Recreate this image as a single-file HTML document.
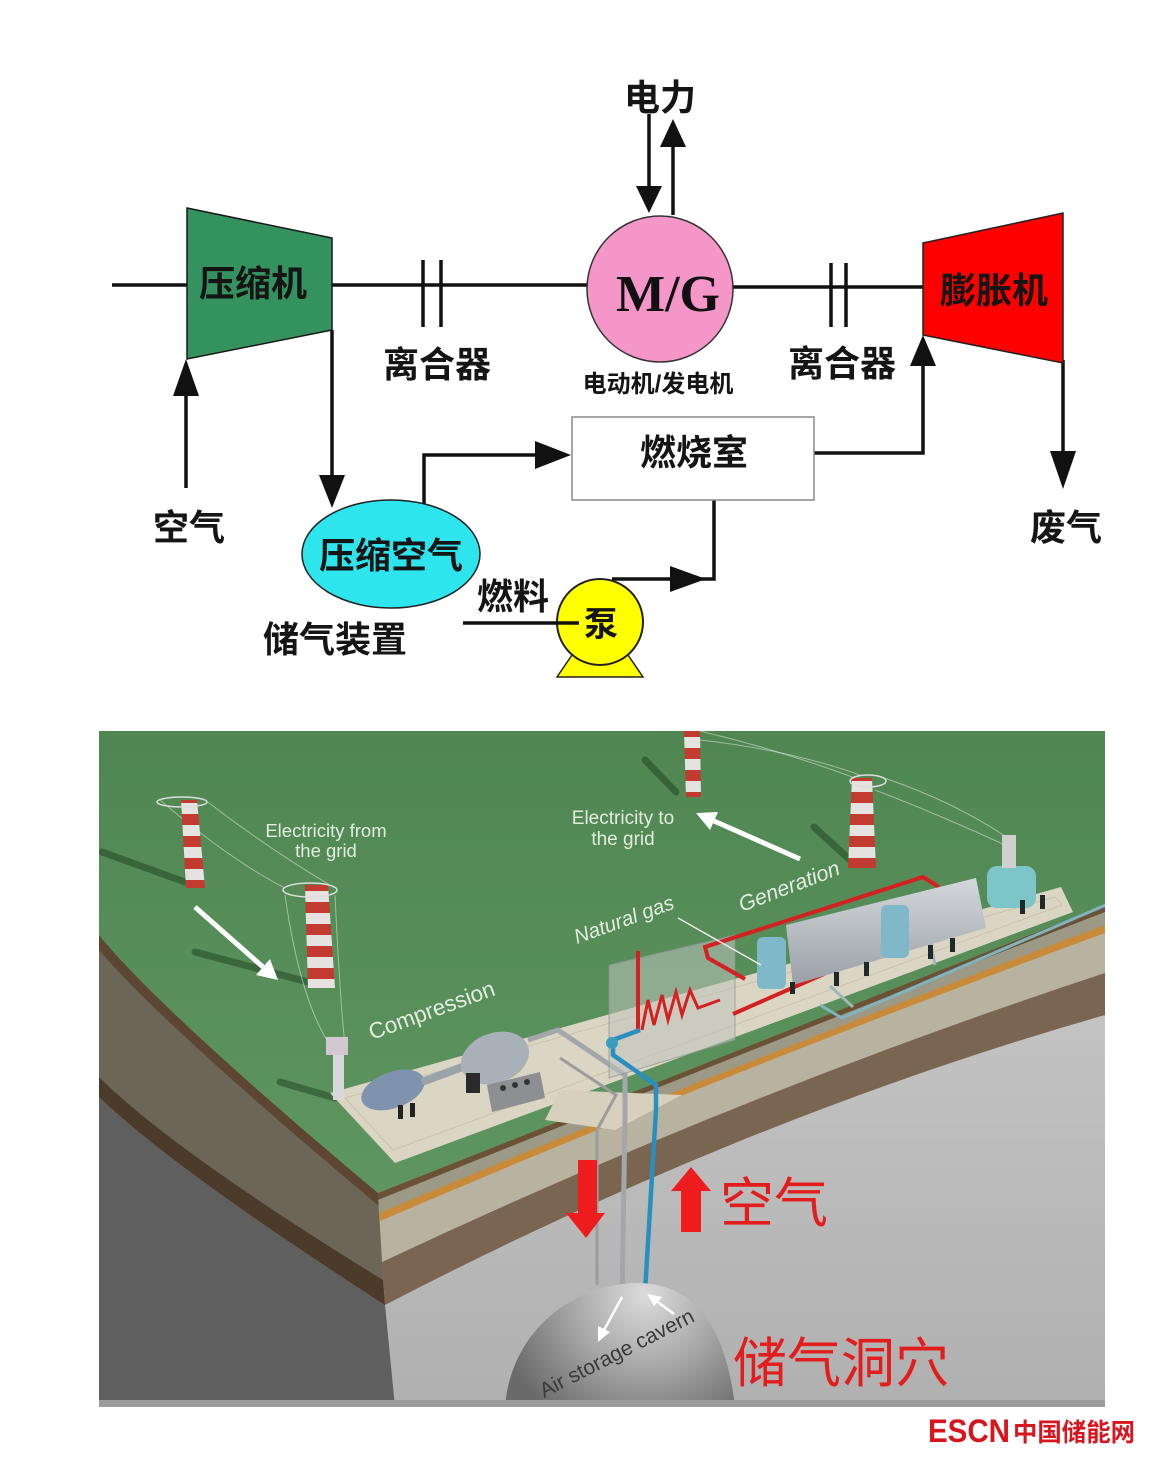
<!DOCTYPE html>
<html><head><meta charset="utf-8">
<style>
html,body{margin:0;padding:0;background:#fff;}
svg{display:block;}
.cn{font-family:"Liberation Sans","Noto Sans CJK SC",sans-serif;font-weight:700;fill:#151515;text-anchor:middle;}
.en{font-family:"Liberation Sans",sans-serif;fill:#e4ece0;}
.rd{font-family:"Liberation Sans","Noto Sans CJK SC",sans-serif;font-weight:400;fill:#e31d1d;}
</style></head><body>
<svg width="1162" height="1467" viewBox="0 0 1162 1467" xmlns="http://www.w3.org/2000/svg">
<defs>
<clipPath id="cb"><rect x="99" y="731" width="1006" height="676"/></clipPath>
<linearGradient id="gGreen" x1="0" y1="0" x2="0" y2="1">
 <stop offset="0" stop-color="#4f8651"/><stop offset="1" stop-color="#5e9561"/>
</linearGradient>
<linearGradient id="gRock" x1="0" y1="0" x2="0" y2="1">
 <stop offset="0" stop-color="#d0d0d0"/><stop offset="1" stop-color="#b0b0b0"/>
</linearGradient>
<radialGradient id="gDome" cx="645" cy="1295" r="150" gradientUnits="userSpaceOnUse">
 <stop offset="0" stop-color="#dcdcdc"/><stop offset="0.5" stop-color="#a6a6a6"/><stop offset="1" stop-color="#6a6a6a"/>
</radialGradient>
<linearGradient id="gCyl" x1="0" y1="0" x2="0" y2="1">
 <stop offset="0" stop-color="#d4d8dc"/><stop offset="1" stop-color="#9aa0a6"/>
</linearGradient>
<pattern id="stripe" width="40" height="22" patternUnits="userSpaceOnUse">
 <rect width="40" height="11" fill="#c23a30"/><rect y="11" width="40" height="11" fill="#e6e2e0"/>
</pattern>
</defs>

<!-- ================= TOP DIAGRAM ================= -->
<g stroke="#111" stroke-width="3.5" fill="none">
 <line x1="112" y1="285" x2="190" y2="285"/>
 <line x1="330" y1="285" x2="590" y2="285"/>
 <line x1="730" y1="287" x2="925" y2="287"/>
 <line x1="423" y1="260" x2="423" y2="327"/>
 <line x1="441" y1="260" x2="441" y2="327"/>
 <line x1="831" y1="263" x2="831" y2="327"/>
 <line x1="846" y1="263" x2="846" y2="327"/>
 <line x1="186" y1="488" x2="186" y2="392"/>
 <line x1="332" y1="330" x2="332" y2="478"/>
 <polyline points="424,504 424,455 538,455"/>
 <polyline points="814,453 923,453 923,362"/>
 <line x1="1063" y1="360" x2="1063" y2="454"/>
 <line x1="649" y1="114" x2="649" y2="189"/>
 <line x1="673" y1="215" x2="673" y2="143"/>
 <polyline points="612,579 714,579 714,500"/>
</g>
<g fill="#111">
 <polygon points="173,396 199,396 186,359"/>
 <polygon points="319,475 345,475 332,508"/>
 <polygon points="535,441 535,469 571,455"/>
 <polygon points="910,366 936,366 923,335"/>
 <polygon points="1050,451 1076,451 1063,489"/>
 <polygon points="636,186 662,186 649,213"/>
 <polygon points="660,147 686,147 673,119"/>
 <polygon points="670,566 670,592 706,579"/>
</g>
<polygon points="187,208 332,238 332,330 187,359" fill="#34925f" stroke="#1a1a1a" stroke-width="1.5"/>
<circle cx="660" cy="289" r="73" fill="#f596c8" stroke="#333" stroke-width="1.5"/>
<polygon points="923,243 1063,213 1063,363 923,335" fill="#ff0000" stroke="#222" stroke-width="1.5"/>
<ellipse cx="391" cy="554" rx="89" ry="54" fill="#2ee5ee" stroke="#222" stroke-width="1.5"/>
<rect x="572" y="417" width="242" height="83" fill="#fff" stroke="#8a8a8a" stroke-width="1.5"/>
<polygon points="557,677 643,677 628,655 572,655" fill="#ffff00" stroke="#222" stroke-width="1.5"/>
<circle cx="600" cy="622" r="43" fill="#ffff00" stroke="#222" stroke-width="2"/>
<line x1="463" y1="623" x2="579" y2="623" stroke="#111" stroke-width="3.5"/>

<text class="cn" x="253" y="296" font-size="36">压缩机</text>
<text class="cn" x="437" y="377" font-size="36">离合器</text>
<text class="cn" x="189" y="540" font-size="36">空气</text>
<text class="cn" x="391" y="568" font-size="36">压缩空气</text>
<text class="cn" x="335" y="652" font-size="36">储气装置</text>
<text class="cn" x="513" y="609" font-size="36">燃料</text>
<text class="cn" x="601" y="636" font-size="34">泵</text>
<text class="cn" x="660" y="110" font-size="36">电力</text>
<text class="cn" x="658" y="392" font-size="24">电动机/发电机</text>
<text class="cn" x="694" y="465" font-size="36">燃烧室</text>
<text class="cn" x="994" y="303" font-size="36">膨胀机</text>
<text class="cn" x="842" y="376" font-size="36">离合器</text>
<text class="cn" x="1066" y="540" font-size="36">废气</text>
<text x="668" y="311" font-family="'Liberation Serif',serif" font-weight="700" font-size="52" fill="#111" text-anchor="middle">M/G</text>

<!-- ================= BOTTOM ILLUSTRATION ================= -->
<g clip-path="url(#cb)">
 <rect x="99" y="731" width="1006" height="676" fill="url(#gRock)"/>
 <path d="M99,1097 Q175,1170 385,1305 L395,1407 L99,1407 Z" fill="#5f5f5f"/>
 <path d="M99,935 Q160,1010 378,1193 L385,1305 Q175,1170 99,1097 Z" fill="#6b6657"/>
 <path d="M99,935 Q160,1010 378,1193 L379,1206 Q163,1025 99,950 Z" fill="#5d4632"/>
 <path d="M99,1077 Q172,1150 383,1280 L385,1305 Q175,1170 99,1097 Z" fill="#4c3b2b"/>
 <path d="M378,1193 Q741,1049 1105,905 L1105,1015 Q745,1118 385,1305 Z" fill="#7a6650"/>
 <path d="M378,1193 Q741,1049 1105,905 L1105,973 Q743.5,1092 382,1262 Z" fill="#b8b2a0"/>
 <path d="M378,1193 Q741,1049 1105,905 L1105,933 Q742,1066 380,1221 Z" fill="#c98a3a"/>
 <path d="M378,1193 Q741,1049 1105,905 L1105,925 Q742,1061 379,1213 Z" fill="#9c9a86"/>
 <path d="M378,1193 Q741,1049 1105,905 L1105,912 Q741,1053 378,1200 Z" fill="#6b5236"/>
 <path d="M99,731 L1105,731 L1105,905 L378,1193 Q160,1010 99,935 Z" fill="url(#gGreen)"/>

 <g stroke="rgba(25,55,25,0.45)" stroke-width="7" stroke-linecap="round">
  <line x1="185" y1="882" x2="102" y2="852"/>
  <line x1="308" y1="982" x2="195" y2="952"/>
  <line x1="849" y1="859" x2="814" y2="827"/>
  <line x1="676" y1="792" x2="645" y2="760"/>
  <line x1="335" y1="1098" x2="280" y2="1082"/>
 </g>
 <g stroke="rgba(225,232,222,0.55)" stroke-width="1" fill="none">
  <path d="M160,800 Q230,860 285,888"/>
  <path d="M205,800 Q270,850 335,888"/>
  <path d="M285,895 Q300,1000 330,1045"/>
  <path d="M335,895 Q340,1000 345,1045"/>
  <path d="M855,778 Q780,750 700,731"/>
  <path d="M884,778 Q950,800 1005,836"/>
  <path d="M875,790 Q940,815 1005,845"/>
  <path d="M700,740 Q790,750 860,775"/>
 </g>
 <polygon points="181,800 197,800 205,888 186,888" fill="url(#stripe)"/>
 <ellipse cx="182" cy="802" rx="25" ry="5" fill="none" stroke="#ddd" stroke-width="1.5"/>
 <polygon points="305,885 328,885 335,988 308,988" fill="url(#stripe)"/>
 <ellipse cx="310" cy="890" rx="27" ry="7" fill="none" stroke="#ddd" stroke-width="1.5"/>
 <polygon points="684,731 700,731 701,797 686,797" fill="url(#stripe)"/>
 <polygon points="852,778 872,778 876,868 848,868" fill="url(#stripe)"/>
 <ellipse cx="868" cy="781" rx="18" ry="6" fill="none" stroke="#ddd" stroke-width="1.5"/>

 <polygon points="330,1093 1061,887 1073,912 395,1163" fill="#dbd5c3"/>
 <polygon points="345,1098 1055,897 1062,905 393,1150" fill="none" stroke="#c9c2ae" stroke-width="1"/>
 <polygon points="560,1090 682,1095 615,1130 545,1120" fill="#d6d0bd"/>

 <path d="M528,1040 L558,1030 L625,1075 L625,1117 L622,1300" fill="none" stroke="#a3a7ab" stroke-width="5"/>
 <path d="M560,1058 L616,1095 L597,1130 L597,1285" fill="none" stroke="#9a9c9e" stroke-width="3"/>
 <polygon points="609,965 735,935 735,1040 609,1078" fill="rgba(190,195,190,0.55)" stroke="rgba(140,145,140,0.7)" stroke-width="1"/>
 <g fill="none" stroke="#d42020" stroke-width="4">
  <path d="M745,979 L708,958 L705,947 L923,877 L939,887"/>
  <path d="M733,1014 L824,974"/>
  <line x1="638" y1="951" x2="638" y2="1030"/>
  <path d="M642,1030 L648,1000 L654,1025 L662,995 L668,1020 L676,992 L682,1015 L690,990 L698,1008 L720,1000" stroke-width="3"/>
 </g>
 <path d="M640,1030 L613,1040 L613,1055 L656,1085 L656,1110 L645,1292" fill="none" stroke="#2a8fbf" stroke-width="4.5"/>
 <path d="M820,1005 L842,1018 L1106,905" fill="none" stroke="#7fb4c0" stroke-width="3"/>
 <path d="M930,940 L935,965" fill="none" stroke="#9fb6bb" stroke-width="3"/>
 <path d="M830,986 L853,1007" fill="none" stroke="#9fb6bb" stroke-width="3"/>

 <rect x="333" y="1045" width="11" height="55" fill="#d8d8dc"/>
 <rect x="326" y="1037" width="22" height="18" fill="#d3c8d2"/>
 <ellipse cx="393" cy="1090" rx="33" ry="18" transform="rotate(-20 393 1090)" fill="#7f93ae"/>
 <rect x="398" y="1105" width="5" height="14" fill="#222"/>
 <rect x="410" y="1103" width="5" height="14" fill="#222"/>
 <line x1="422" y1="1082" x2="465" y2="1066" stroke="#9aa2aa" stroke-width="8"/>
 <ellipse cx="495" cy="1058" rx="35" ry="25" transform="rotate(-20 495 1058)" fill="#a8b0b8"/>
 <rect x="466" y="1073" width="14" height="20" fill="#2a2a2a"/>
 <polygon points="487,1085 540,1072 545,1098 492,1112" fill="#8d8f92"/>
 <circle cx="503" cy="1088" r="3" fill="#333"/><circle cx="515" cy="1085" r="3" fill="#333"/><circle cx="527" cy="1082" r="3" fill="#333"/>
 <circle cx="612" cy="1043" r="6" fill="#3a9fbf"/>

 <polygon points="786,925 976,878 986,928 793,985" fill="url(#gCyl)"/>
 <rect x="757" y="937" width="29" height="52" rx="6" fill="#7fb8c8"/>
 <rect x="881" y="905" width="28" height="53" rx="6" fill="#7fb8c8"/>
 <rect x="987" y="866" width="49" height="42" rx="10" fill="#7ec5c9"/>
 <rect x="1002" y="835" width="14" height="33" fill="#cfcfcf"/>
 <g fill="#1e2a2a">
  <rect x="834" y="972" width="5" height="14"/><rect x="864" y="962" width="5" height="14"/>
  <rect x="928" y="945" width="5" height="14"/><rect x="950" y="938" width="5" height="14"/>
  <rect x="1020" y="900" width="5" height="14"/><rect x="1040" y="895" width="5" height="14"/>
  <rect x="790" y="982" width="5" height="12"/>
 </g>

 <line x1="195" y1="907" x2="263" y2="967" stroke="#fff" stroke-width="5"/>
 <polygon points="278,980 256,975 270,959" fill="#fff"/>
 <line x1="800" y1="859" x2="714" y2="821" stroke="#fff" stroke-width="5"/>
 <polygon points="696,813 718,812 710,830" fill="#fff"/>
 <line x1="678" y1="918" x2="761" y2="965" stroke="#eee" stroke-width="1.5"/>

 <text class="en" x="326" y="837" font-size="18.5" text-anchor="middle">Electricity from</text>
 <text class="en" x="326" y="857" font-size="18.5" text-anchor="middle">the grid</text>
 <text class="en" x="623" y="824" font-size="19" text-anchor="middle">Electricity to</text>
 <text class="en" x="623" y="845" font-size="19" text-anchor="middle">the grid</text>
 <text class="en" font-size="22.5" transform="translate(372,1040) rotate(-20)">Compression</text>
 <text class="en" font-size="20.5" font-style="italic" transform="translate(577,944) rotate(-20)">Natural gas</text>
 <text class="en" font-size="21.5" font-style="italic" transform="translate(742,912) rotate(-21)">Generation</text>

 <path d="M505,1407 C510,1340 560,1290 630,1283 C690,1280 725,1320 735,1407 Z" fill="url(#gDome)"/>
 <line x1="622" y1="1297" x2="603" y2="1332" stroke="#fff" stroke-width="2.5"/>
 <polygon points="598,1342 598,1326 610,1332" fill="#fff"/>
 <line x1="674" y1="1314" x2="655" y2="1300" stroke="#fff" stroke-width="2.5"/>
 <polygon points="647,1294 662,1297 654,1306" fill="#fff"/>
 <text font-family="'Liberation Sans',sans-serif" font-size="21" fill="#3a3a3a" transform="translate(544,1398) rotate(-27)">Air storage cavern</text>

 <polygon points="578,1160 597,1160 597,1213 605,1213 586,1238 566,1213 578,1213" fill="#ee1c1c"/>
 <polygon points="681,1232 701,1232 701,1191 711,1191 691,1167 671,1191 681,1191" fill="#ee1c1c"/>
 <text class="rd" x="720" y="1222" font-size="54">空气</text>
 <text class="rd" x="733" y="1382" font-size="54">储气洞穴</text>
 <rect x="99" y="1400" width="1006" height="7" fill="#9c9c9c"/>
</g>

<text x="928" y="1442" font-family="'Liberation Sans',sans-serif" font-weight="700" font-size="32" fill="#d7151d" textLength="82" lengthAdjust="spacingAndGlyphs">ESCN</text>
<text x="1013" y="1441" font-family="'Liberation Sans','Noto Sans CJK SC',sans-serif" font-weight="700" font-size="25" fill="#d7151d" textLength="122" lengthAdjust="spacingAndGlyphs">中国储能网</text>
</svg>
</body></html>
